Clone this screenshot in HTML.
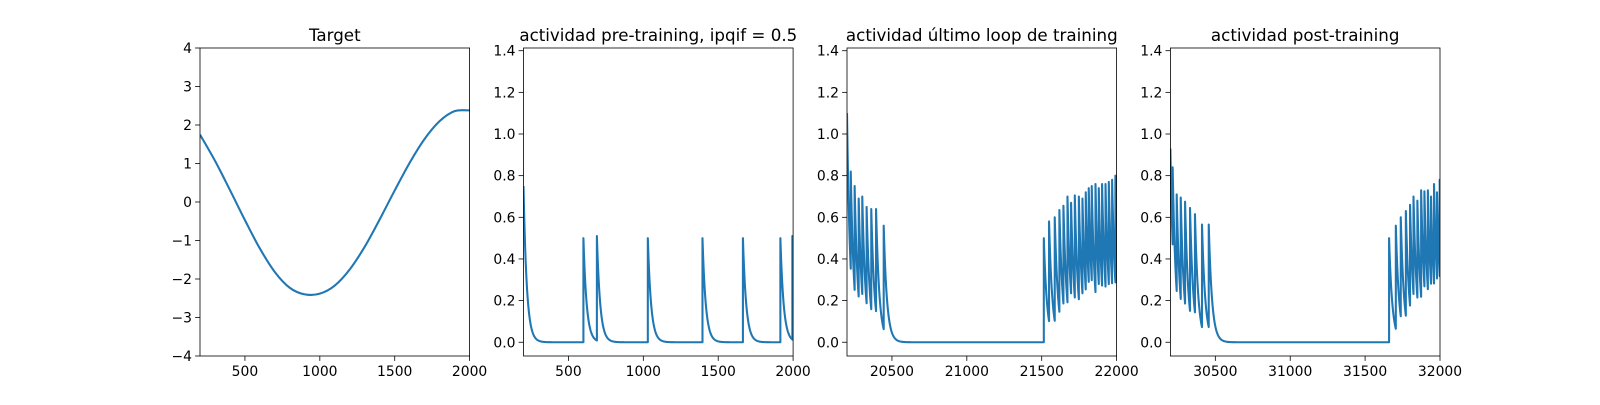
<!DOCTYPE html>
<html><head><meta charset="utf-8"><style>
body{margin:0;background:#fff;}
svg text{font-family:"DejaVu Sans","Liberation Sans",sans-serif;fill:#000;}
</style></head><body>
<svg id="fig" width="1600" height="400" viewBox="0 0 1600 400" xmlns="http://www.w3.org/2000/svg"></svg>
<script>
// ---- data ----
const targetT = [200,300,400,500,600,700,800,900,1000,1100,1200,1300,1400,1500,1600,1700,1800,1900,2000];
const targetV = [1.75,1.07,0.31,-0.47,-1.21,-1.82,-2.23,-2.40,-2.38,-2.17,-1.75,-1.16,-0.45,0.30,1.02,1.64,2.10,2.36,2.38];

const preStart = 0.75;
const preSpikeT = [600,690,1030,1395,1665,1915,1995];
const preSpikeV = [0.5,0.51,0.5,0.5,0.5,0.5,0.51];

const lastStart = 1.1;
const lastSpikeT = [20225,20251,20278,20302,20331,20362,20394,20445,21514,21549,21587,21618,21645,21672,21696,21721,21748,21772,21794,21814,21834,21859,21881,21903,21926,21948,21970,21992];
const lastSpikeV = [0.82,0.75,0.69,0.70,0.65,0.64,0.64,0.56,0.50,0.58,0.60,0.635,0.655,0.70,0.67,0.705,0.70,0.69,0.72,0.74,0.75,0.76,0.74,0.76,0.76,0.77,0.78,0.80];

const postStart = 0.93;
const postSpikeT = [30215,30242,30269,30298,30331,30364,30411,30456,31660,31705,31738,31772,31800,31823,31849,31874,31896,31919,31940,31960,31980,31998];
const postSpikeV = [0.84,0.71,0.695,0.675,0.645,0.615,0.565,0.565,0.50,0.56,0.60,0.63,0.66,0.70,0.68,0.73,0.725,0.73,0.70,0.76,0.72,0.78];

const xTicks1 = [500,1000,1500,2000];
const yTicks1 = [-4,-3,-2,-1,0,1,2,3,4];
const yTicksAct = [0.0,0.2,0.4,0.6,0.8,1.0,1.2,1.4];
const xTicks3 = [20500,21000,21500,22000];
const xTicks4 = [30500,31000,31500,32000];
const TAU = 22;

// ---- drawing ----
const NS="http://www.w3.org/2000/svg";
const svg=document.getElementById('fig');
function mk(tag,attrs,parent){const e=document.createElementNS(NS,tag);for(const k in attrs)e.setAttribute(k,attrs[k]);(parent||svg).appendChild(e);return e;}
const AX_TOP=48, AX_BOT=356, AX_W=269.6, lefts=[200,523.5,847,1170.4];

function panel(i,title,xmin,xmax,ymin,ymax,xt,yt,fmtY){
  const g=mk('g',{});
  
  
  const L=lefts[i], R=L+AX_W;
  const sx=v=>L+(v-xmin)/(xmax-xmin)*AX_W;
  const sy=v=>AX_BOT-(v-ymin)/(ymax-ymin)*(AX_BOT-AX_TOP);
  const t=mk('text',{x:L+AX_W/2,y:AX_TOP-7,'text-anchor':'middle','font-size':'16.7'},g);
  t.textContent=title;
  
  
  xt.forEach(v=>{const x=sx(v);
    mk('line',{x1:x,x2:x,y1:AX_BOT,y2:AX_BOT+4.9,stroke:'#000','stroke-width':0.8},g);
    const tx=mk('text',{x:x,y:AX_BOT+20,'text-anchor':'middle','font-size':'13.9'},g);
    tx.textContent=String(v);
    
    
  });
  yt.forEach(v=>{const y=sy(v);
    mk('line',{x1:L-4.9,x2:L,y1:y,y2:y,stroke:'#000','stroke-width':0.8},g);
    const ty=mk('text',{x:L-8,y:y+5,'text-anchor':'end','font-size':'13.9'},g);
    ty.textContent=fmtY(v);
    
    
  });
  const cid='clip'+i;
  const cp=mk('clipPath',{id:cid},g);mk('rect',{x:L,y:AX_TOP,width:AX_W,height:AX_BOT-AX_TOP},cp);
  return {g,sx,sy,L,R,cid,
    line(pts){const p=mk('polyline',{points:pts.map(q=>sx(q[0]).toFixed(2)+','+sy(q[1]).toFixed(2)).join(' '),fill:'none',stroke:'#1f77b4','stroke-width':2.08,'stroke-linejoin':'round','clip-path':'url(#'+cid+')'},g);
      
      },
    smooth(pts){const P=pts.map(q=>[sx(q[0]),sy(q[1])]);
      let d='M'+P[0][0].toFixed(2)+','+P[0][1].toFixed(2);
      for(let k=0;k<P.length-1;k++){const p0=P[Math.max(0,k-1)],p1=P[k],p2=P[k+1],p3=P[Math.min(P.length-1,k+2)];
        const c1=[p1[0]+(p2[0]-p0[0])/6,p1[1]+(p2[1]-p0[1])/6],c2=[p2[0]-(p3[0]-p1[0])/6,p2[1]-(p3[1]-p1[1])/6];
        d+=' C'+c1[0].toFixed(2)+','+c1[1].toFixed(2)+' '+c2[0].toFixed(2)+','+c2[1].toFixed(2)+' '+p2[0].toFixed(2)+','+p2[1].toFixed(2);}
      const p=mk('path',{d:d,fill:'none',stroke:'#1f77b4','stroke-width':2.08,'clip-path':'url(#'+cid+')'},g);
      
      },
    frame(){const f=mk('rect',{x:L,y:AX_TOP,width:AX_W,height:AX_BOT-AX_TOP,fill:'none',stroke:'#000','stroke-width':0.8},g);
      
      }
  };
}
function spikeTrain(t0,t1,v0,ts,vs){
  const pts=[];let tc=t0,vc=v0;
  const seg=(a,b,va)=>{for(let t=a;t<b;t+=2)pts.push([t,va*Math.exp(-(t-a)/TAU)]);pts.push([b,va*Math.exp(-(b-a)/TAU)]);};
  for(let k=0;k<ts.length;k++){seg(tc,ts[k],vc);tc=ts[k];vc=vs[k];}
  seg(tc,t1,vc);return pts;
}
const fmtInt=v=>v<0?'\u2212'+(-v):String(v);
const fmt1=v=>v.toFixed(1);
const YMIN=-0.066,YMAX=1.413;

let p=panel(0,'Target',200,2000,-4,4,xTicks1,yTicks1,fmtInt);
p.smooth(targetT.map((t,k)=>[t,targetV[k]]));p.frame();

p=panel(1,'actividad pre-training, ipqif = 0.5',200,2000,YMIN,YMAX,xTicks1,yTicksAct,fmt1);
p.line(spikeTrain(200,2000,preStart,preSpikeT,preSpikeV));p.frame();

p=panel(2,'actividad último loop de training',20200,22000,YMIN,YMAX,xTicks3,yTicksAct,fmt1);
p.line(spikeTrain(20200,22000,lastStart,lastSpikeT,lastSpikeV));p.frame();

p=panel(3,'actividad post-training',30200,32000,YMIN,YMAX,xTicks4,yTicksAct,fmt1);
p.line(spikeTrain(30200,32000,postStart,postSpikeT,postSpikeV));p.frame();
</script>
</body></html>
